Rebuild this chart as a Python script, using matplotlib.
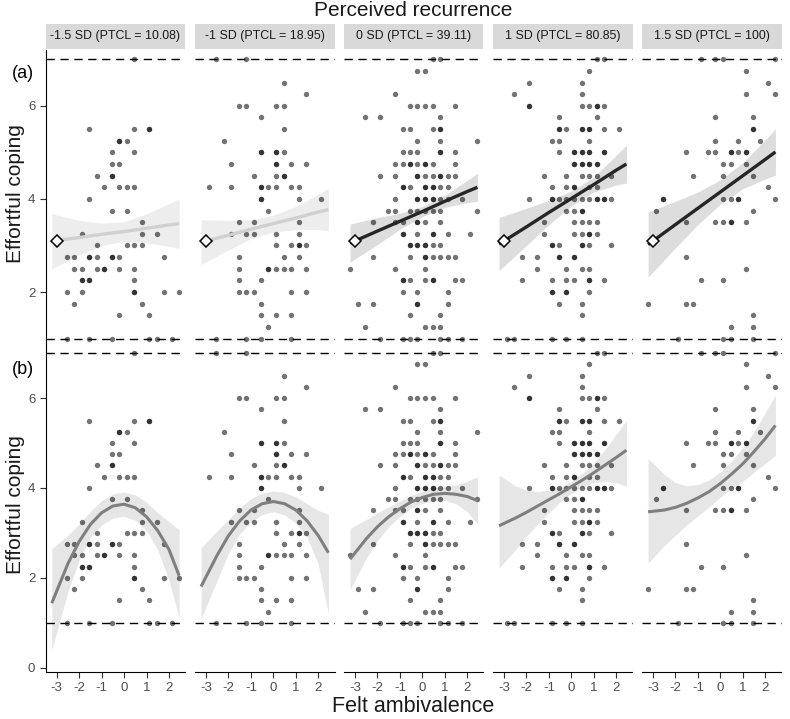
import matplotlib
matplotlib.use("Agg")
import matplotlib.pyplot as plt

plt.rcParams["font.family"] = ["Liberation Sans", "DejaVu Sans"]

# --- facet labels ---
strip_labels = ["-1.5 SD (PTCL = 10.08)", "-1 SD (PTCL = 18.95)", "0 SD (PTCL = 39.11)",
                "1 SD (PTCL = 80.85)", "1.5 SD (PTCL = 100)"]

# --- raw points per facet: (effortful coping, [felt ambivalence values]) ---
pts1 = [
    (7.0, [0.45]),
    (5.5, [-1.55, 0.45, 1.12, 1.12]),
    (5.25, [-0.22, -0.22, 0.12]),
    (5.0, [-0.55, 0.45]),
    (4.75, [-0.55, -0.22]),
    (4.5, [-1.22, -0.55, -0.55]),
    (4.25, [-0.88, -0.22, 0.12, 0.45]),
    (4.0, [-1.55]),
    (3.75, [-0.55, 0.12]),
    (3.5, [0.78]),
    (3.25, [-1.88, 0.78, 1.45]),
    (3.0, [-1.22, 0.12, 0.45, 0.78]),
    (2.75, [-2.55, -2.22, -1.55, -1.55, -1.22, -0.55, -0.55, -0.22, 1.78]),
    (2.5, [-2.22, -1.88, -1.22, -0.88, -0.88, -0.22, 0.45]),
    (2.25, [-1.88, -1.88, -1.55, -1.55, 0.45]),
    (2.0, [-2.55, -1.88, 0.45, 0.45, 1.78, 2.45]),
    (1.75, [-2.22, 0.78]),
    (1.5, [-0.22, 1.12]),
    (1.0, [-2.55, -1.55, -0.55, 1.12, 1.45, 2.12]),
]
pts2 = [
    (7.0, [-2.55, -1.22]),
    (6.5, [0.45]),
    (6.25, [1.45]),
    (6.0, [-1.55, -1.22, 0.12, 0.45]),
    (5.75, [-0.55]),
    (5.5, [0.45]),
    (5.25, [-2.22]),
    (5.0, [-0.55, -0.55, 0.12, 0.12, 0.45]),
    (4.75, [-1.88, 0.12, 0.12, 0.78, 1.45]),
    (4.5, [-0.88, 0.12, 0.45, 0.45]),
    (4.25, [-2.88, -1.88, -0.55, -0.55, -0.22, 0.12, 0.78, 1.12]),
    (4.0, [-0.55, -0.55, 1.12, 2.12]),
    (3.75, [-0.22]),
    (3.5, [-1.55, -0.88, 1.12]),
    (3.25, [-1.88, -1.22, -0.88, 0.12, 1.12]),
    (3.0, [0.12, 0.78, 1.12, 1.12, 1.45]),
    (2.75, [-1.55, 0.45, 1.12]),
    (2.5, [-1.55, -0.22, -0.22, 0.12, 0.45, 0.78, 1.45]),
    (2.25, [-1.55, -0.55]),
    (2.0, [-1.55, -1.22, -0.88, 0.78, 1.45]),
    (1.75, [-0.55]),
    (1.5, [-0.55, 0.12, 0.78]),
    (1.25, [-0.22]),
    (1.0, [-2.55, -1.22, -0.55, 0.78]),
]
pts3 = [
    (7.0, [0.45, 0.78]),
    (6.75, [-0.22, 0.12]),
    (6.25, [-1.22]),
    (6.0, [-0.55, -0.22, 0.12, 0.45, 1.45]),
    (5.75, [-2.55, -1.88, 0.78]),
    (5.5, [-0.88, -0.55, 0.45, 0.78, 0.78]),
    (5.25, [-0.22, 0.78, 2.45]),
    (5.0, [-0.88, -0.55, -0.22, 0.78, 0.78, 1.45]),
    (4.75, [-1.22, -0.88, -0.55, -0.55, -0.22, 0.12, 0.12, 0.45, 1.45]),
    (4.5, [-1.88, -1.22, -0.22, -0.22, 0.12, 0.45, 0.78, 0.78, 1.12, 1.45]),
    (4.25, [-0.88, -0.88, -0.55, 0.12, 0.12, 0.45, 0.45, 0.78, 1.12]),
    (4.0, [-1.22, -0.22, -0.22, 0.12, 0.12, 0.45, 0.45, 0.78, 1.12, 1.78]),
    (3.75, [-1.55, -1.22, -0.55, -0.22, 0.12, 0.45, 0.78, 2.45]),
    (3.5, [-2.22, -1.22, -0.88, -0.22, -0.22, 0.12, 0.78]),
    (3.25, [-0.88, -0.88, -0.22, 0.45, 0.45, 1.12, 2.12]),
    (3.0, [-0.55, -0.55, -0.22, -0.22, 0.12, 0.12, 0.45, 0.78]),
    (2.75, [-2.22, -0.55, 0.12, 0.12, 0.45, 0.78, 1.12, 1.45]),
    (2.5, [-3.22, -1.22, 0.12]),
    (2.25, [-0.88, -0.88, -0.55, 0.12, 0.45, 0.45, 1.45, 1.78]),
    (2.0, [-0.88, -0.22, 1.12]),
    (1.75, [-2.88, -2.22, -0.22, -0.22, 1.12]),
    (1.5, [-0.55, 0.78]),
    (1.25, [-2.55, 0.12, 0.45, 0.78]),
    (1.0, [-1.88, -0.88, -0.55, -0.22, 0.78, 1.12, 1.78]),
]
pts4 = [
    (7.0, [1.12, 1.45]),
    (6.75, [0.78]),
    (6.5, [-1.88, 0.45]),
    (6.25, [-2.55, 0.45]),
    (6.0, [-1.88, -1.88, 0.45, 0.78, 1.12, 1.12, 1.45]),
    (5.75, [-0.55, 1.12]),
    (5.5, [-0.55, -0.55, -0.22, 0.45, 0.45, 0.78, 0.78, 1.45, 2.12]),
    (5.25, [-0.88, -0.55, 0.78]),
    (5.0, [-0.55, 0.12, 0.12, 0.45, 0.45, 0.78, 0.78, 1.45, 1.45]),
    (4.75, [0.12, 0.12, 0.45, 0.45, 0.78, 0.78, 1.12, 1.12]),
    (4.5, [-1.22, -0.22, 0.45, 0.78, 1.12, 1.78]),
    (4.25, [-0.88, -0.22, 0.12, 0.12, 0.78, 1.12]),
    (4.0, [-1.88, -0.88, -0.88, -0.55, -0.22, 0.12, 0.45, 0.78, 1.12, 1.12, 1.45, 1.45, 1.78]),
    (3.75, [-0.22, 0.12, 0.45, 0.45]),
    (3.5, [-1.22, 0.12, 0.45, 0.78, 1.12]),
    (3.25, [-1.22, 0.12, 0.45, 0.78, 0.78, 1.12]),
    (3.0, [-0.88, -0.88, -0.55, 0.45, 0.45, 0.78, 1.78]),
    (2.75, [-2.22, -1.55, -0.55, -0.55, 0.12, 0.12]),
    (2.5, [-1.55, -0.22, 0.45, 0.78]),
    (2.25, [-2.22, -0.88, -0.22, 0.12, 0.78, 0.78, 1.45]),
    (2.0, [-0.88, -0.88, -0.22, -0.22, 0.78]),
    (1.75, [-0.55, 0.45]),
    (1.5, [0.45]),
    (1.0, [-2.88, -2.55, -0.88, -0.22, 0.45]),
]
pts5 = [
    (7.0, [-0.88, -0.22, 0.12, 2.45]),
    (6.75, [1.12]),
    (6.5, [2.12]),
    (6.25, [1.12, 2.45]),
    (5.75, [-0.22, 1.45]),
    (5.5, [1.45, 1.45]),
    (5.25, [-0.22, 0.78, 1.78]),
    (5.0, [-1.55, -0.55, -0.22, 0.45, 0.45, 0.78, 1.12, 1.12]),
    (4.75, [0.12, 0.45, 1.12]),
    (4.5, [-1.22, 0.12, 1.45]),
    (4.25, [2.12]),
    (4.0, [-2.55, -2.55, 0.12, 0.45, 0.78, 0.78, 2.45]),
    (3.75, [-2.88, 1.45]),
    (3.5, [-1.55, -0.22, 0.12, 0.45, 0.45, 1.12]),
    (2.75, [-1.55]),
    (2.5, [1.12]),
    (2.25, [-0.88, 0.12]),
    (1.75, [-3.22, -1.55, -1.22]),
    (1.5, [1.45]),
    (1.25, [0.45, 1.45]),
    (1.0, [-1.88, 0.12, 0.45, 1.45]),
]
points = [pts1, pts2, pts3, pts4, pts5]

# --- (a) linear fits with confidence band ---
lin_x = [-3.22, -2, -1, 0, 1, 2, 2.45]
lin_fit = [
    [3.09, 3.17, 3.24, 3.30, 3.37, 3.44, 3.47],
    [3.07, 3.22, 3.35, 3.47, 3.59, 3.72, 3.77],
    [3.05, 3.31, 3.52, 3.73, 3.95, 4.16, 4.25],
    [3.03, 3.40, 3.71, 4.01, 4.31, 4.62, 4.75],
    [3.02, 3.45, 3.80, 4.15, 4.50, 4.85, 5.01],
]
lin_lo = [
    [2.50, 2.80, 3.00, 3.09, 3.06, 2.98, 2.94],
    [2.59, 2.90, 3.15, 3.29, 3.34, 3.34, 3.32],
    [2.64, 3.02, 3.35, 3.62, 3.82, 3.92, 3.95],
    [2.46, 3.00, 3.45, 3.85, 4.15, 4.30, 4.34],
    [2.32, 2.95, 3.45, 3.89, 4.22, 4.43, 4.51],
]
lin_hi = [
    [3.68, 3.54, 3.48, 3.51, 3.68, 3.90, 4.00],
    [3.55, 3.54, 3.55, 3.65, 3.84, 4.10, 4.22],
    [3.46, 3.60, 3.69, 3.84, 4.08, 4.40, 4.55],
    [3.60, 3.80, 3.97, 4.17, 4.47, 4.94, 5.16],
    [3.72, 3.95, 4.15, 4.41, 4.78, 5.27, 5.51],
]
anchor_x = -3.0
anchor_y = 3.1

# --- (b) quadratic fits with confidence band ---
quad_x = [-3.22, -2.5, -2, -1.5, -1, -0.5, 0, 0.5, 1, 1.5, 2, 2.45]
quad_fit = [
    [1.44, 2.32, 2.81, 3.19, 3.45, 3.60, 3.64, 3.56, 3.36, 3.05, 2.63, 2.05],
    [1.81, 2.51, 2.94, 3.27, 3.51, 3.65, 3.70, 3.65, 3.51, 3.27, 2.94, 2.56],
    [2.42, 2.87, 3.14, 3.36, 3.54, 3.69, 3.79, 3.86, 3.88, 3.86, 3.81, 3.72],
    [3.16, 3.33, 3.46, 3.60, 3.74, 3.88, 4.03, 4.18, 4.34, 4.51, 4.68, 4.84],
    [3.47, 3.51, 3.57, 3.66, 3.78, 3.92, 4.10, 4.31, 4.54, 4.81, 5.10, 5.39],
]
quad_lo = [
    [0.40, 1.70, 2.40, 2.90, 3.18, 3.33, 3.37, 3.28, 3.05, 2.62, 1.95, 1.10],
    [1.10, 1.95, 2.55, 2.98, 3.25, 3.41, 3.47, 3.40, 3.22, 2.90, 2.30, 1.20],
    [1.74, 2.44, 2.83, 3.14, 3.37, 3.55, 3.66, 3.72, 3.72, 3.65, 3.47, 3.20],
    [2.22, 2.62, 2.92, 3.20, 3.45, 3.70, 3.88, 4.02, 4.12, 4.15, 4.12, 4.04],
    [2.33, 2.72, 2.95, 3.18, 3.38, 3.58, 3.80, 3.99, 4.15, 4.35, 4.55, 4.72],
]
quad_hi = [
    [2.65, 2.95, 3.20, 3.48, 3.72, 3.87, 3.91, 3.85, 3.68, 3.45, 3.25, 3.07],
    [2.67, 3.05, 3.30, 3.55, 3.76, 3.89, 3.93, 3.90, 3.80, 3.65, 3.50, 3.42],
    [3.10, 3.30, 3.45, 3.58, 3.71, 3.83, 3.93, 4.00, 4.04, 4.07, 4.15, 4.25],
    [4.29, 4.05, 3.95, 3.92, 3.95, 4.02, 4.15, 4.33, 4.55, 4.85, 5.20, 5.50],
    [4.66, 4.30, 4.12, 4.05, 4.08, 4.18, 4.36, 4.60, 4.90, 5.25, 5.68, 6.07],
]

xticks = [-3, -2, -1, 0, 1, 2]
xtick_labels = ["-3", "-2", "-1", "0", "1", "2"]

# --- layout (pixels) ---
W, H = 790, 719
col_left = [45.7, 195, 344, 493, 642]
panel_w = 139.5
top_line_col = ["#d0d0d0", "#d0d0d0", "#262626", "#262626", "#262626"]
top_band_col = ["#ededed", "#ededed", "#dddddd", "#dddddd", "#dddddd"]

fig = plt.figure(figsize=(W / 100, H / 100), dpi=100)


def px_axes(x0, y0, w, h):
    return fig.add_axes([x0 / W, 1 - (y0 + h) / H, w / W, h / H])


def draw_points(ax, rows):
    xs, ys = [], []
    for yv, xlist in rows:
        for xv in xlist:
            xs.append(xv)
            ys.append(yv)
    ax.scatter(xs, ys, s=15, color="black", alpha=0.55, linewidths=0, zorder=3)


def base_style(ax, show_y):
    ax.set_xlim(-3.49, 2.72)
    for side in ["top", "right"]:
        ax.spines[side].set_visible(False)
    ax.spines["left"].set_visible(show_y)
    ax.tick_params(labelsize=9.5, labelcolor="#4d4d4d", color="#333333",
                   length=4, width=0.8)
    for h in (1, 7):
        ax.axhline(h, color="black", lw=1.0, ls=(0, (6, 4)), zorder=2)
    if not show_y:
        ax.set_yticks([])


for i in range(5):
    # strip
    ax_s = px_axes(col_left[i], 24, panel_w, 25)
    ax_s.set_facecolor("#d9d9d9")
    ax_s.set_xticks([])
    ax_s.set_yticks([])
    for sp in ax_s.spines.values():
        sp.set_visible(False)
    ax_s.text(0.5, 0.5, strip_labels[i], ha="center", va="center",
              fontsize=8.9, color="#1a1a1a", transform=ax_s.transAxes)

    # (a) linear
    ax_t = px_axes(col_left[i], 50, panel_w, 296)
    base_style(ax_t, i == 0)
    ax_t.set_ylim(0.84, 7.2)
    ax_t.spines["bottom"].set_visible(False)
    ax_t.set_xticks([])
    if i == 0:
        ax_t.set_yticks([2, 4, 6])
    ax_t.fill_between(lin_x, lin_lo[i], lin_hi[i], color=top_band_col[i], lw=0, zorder=1)
    draw_points(ax_t, points[i])
    ax_t.plot(lin_x, lin_fit[i], color=top_line_col[i], lw=2.4, zorder=4,
              solid_capstyle="butt")
    ax_t.plot([anchor_x], [anchor_y], marker="D", ms=6.5, mfc="white",
              mec="black", mew=1.1, zorder=5)

    # (b) quadratic
    ax_b = px_axes(col_left[i], 346, panel_w, 326)
    base_style(ax_b, i == 0)
    ax_b.set_ylim(-0.09, 7.156)
    if i == 0:
        ax_b.set_yticks([0, 2, 4, 6])
    ax_b.set_xticks(xticks)
    ax_b.set_xticklabels(xtick_labels)
    ax_b.fill_between(quad_x, quad_lo[i], quad_hi[i], color="#e6e6e6", lw=0, zorder=1)
    draw_points(ax_b, points[i])
    ax_b.plot(quad_x, quad_fit[i], color="#7f7f7f", lw=2.2, zorder=4,
              solid_capstyle="butt")

fig.text(413 / W, 1 - 10 / H, "Perceived recurrence", ha="center", va="center",
         fontsize=15, color="#1a1a1a")
fig.text(413 / W, 1 - 706 / H, "Felt ambivalence", ha="center", va="center",
         fontsize=15.5, color="#1a1a1a")
fig.text(16 / W, 1 - 194 / H, "Effortful coping", rotation=90, ha="center",
         va="center", fontsize=15, color="#1a1a1a")
fig.text(16 / W, 1 - 505 / H, "Effortful coping", rotation=90, ha="center",
         va="center", fontsize=15, color="#1a1a1a")
fig.text(23 / W, 1 - 73 / H, "(a)", ha="center", va="center", fontsize=13)
fig.text(23 / W, 1 - 370 / H, "(b)", ha="center", va="center", fontsize=13)

fig.savefig("out.png", dpi=100)
